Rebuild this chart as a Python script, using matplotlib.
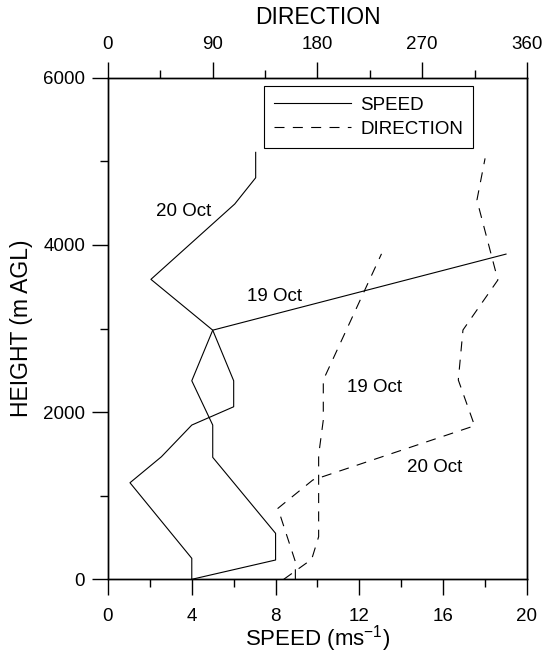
import matplotlib
matplotlib.use("Agg")
import matplotlib.pyplot as plt
from matplotlib.ticker import MultipleLocator

plt.rcParams['font.family'] = ['Liberation Sans', 'DejaVu Sans']
plt.rcParams['mathtext.default'] = 'regular'

# wind speed profiles (m/s) against height (m AGL)
speed19_h = [0, 231, 550, 1459, 1845, 2375, 2980, 3890]
speed19 = [4.0, 8.0, 8.0, 5.0, 5.0, 4.0, 5.0, 19.0]
speed20_h = [0, 251, 1155, 1466, 1845, 2064, 2375, 2980, 3588, 4489, 4803, 5107]
speed20 = [4.0, 4.0, 1.05, 2.55, 4.0, 6.0, 6.0, 5.0, 2.05, 6.05, 7.05, 7.05]

# wind direction profiles (degrees)
dir19_h = [0, 239, 510, 1487, 1905, 2384, 3893]
dir19 = [151, 175, 181, 181, 185, 185, 235]
dir20_h = [0, 211, 849, 1188, 1837, 2384, 2982, 3580, 4536, 5035]
dir20 = [161, 161, 146, 176, 315, 301, 305, 335, 317, 324]

# label text, placed in speed/height coordinates
labels = ["20 Oct", "19 Oct", "19 Oct", "20 Oct"]
label_x = [3.63, 7.95, 12.74, 15.6]
label_y = [4400, 3380, 2300, 1335]

fig = plt.figure(figsize=(5.44, 6.54), dpi=100)
ax = fig.add_axes([0.1985, 0.1142, 0.7702, 0.767])
ax2 = ax.twiny()

lw = 0.8
dash = (0, (9, 7.5))
l1, = ax.plot(speed19, speed19_h, color='k', lw=lw)
ax.plot(speed20, speed20_h, color='k', lw=lw)
l2, = ax2.plot(dir19, dir19_h, color='k', lw=lw, linestyle=dash)
ax2.plot(dir20, dir20_h, color='k', lw=lw, linestyle=dash)

for t, x, y in zip(labels, label_x, label_y):
    ax.text(x, y, t, fontsize=13.5, ha='center', va='center')

ax.set_xlim(0, 20)
ax.set_ylim(0, 6000)
ax2.set_xlim(0, 360)

ax.xaxis.set_major_locator(MultipleLocator(4))
ax.xaxis.set_minor_locator(MultipleLocator(2))
ax.yaxis.set_major_locator(MultipleLocator(2000))
ax.yaxis.set_minor_locator(MultipleLocator(1000))
ax2.xaxis.set_major_locator(MultipleLocator(90))
ax2.xaxis.set_minor_locator(MultipleLocator(45))

for a in (ax, ax2):
    a.tick_params(which='major', direction='out', length=11.5, width=1,
                  labelsize=13.5, pad=6)
    a.tick_params(which='minor', direction='out', length=6, width=1)
    for s in a.spines.values():
        s.set_linewidth(1)
ax.tick_params(axis='x', which='major', pad=9)
ax.tick_params(axis='y', which='major', pad=5)

ax.set_xlabel('SPEED (ms$^{-1}$)', fontsize=16, labelpad=-1)
ax.set_ylabel('HEIGHT (m AGL)', fontsize=16.5, labelpad=7)
ax2.set_xlabel('DIRECTION', fontsize=16.5, labelpad=9)

leg = ax.legend([l1, l2], ['SPEED', 'DIRECTION'], loc='upper right',
                bbox_to_anchor=(0.872, 0.983), fontsize=13.5, fancybox=False,
                framealpha=1, edgecolor='k', handlelength=4.1,
                borderpad=0.55, labelspacing=0.37, handletextpad=0.5,
                borderaxespad=0)
leg.get_frame().set_linewidth(0.8)

fig.savefig('out.png', dpi=100)
